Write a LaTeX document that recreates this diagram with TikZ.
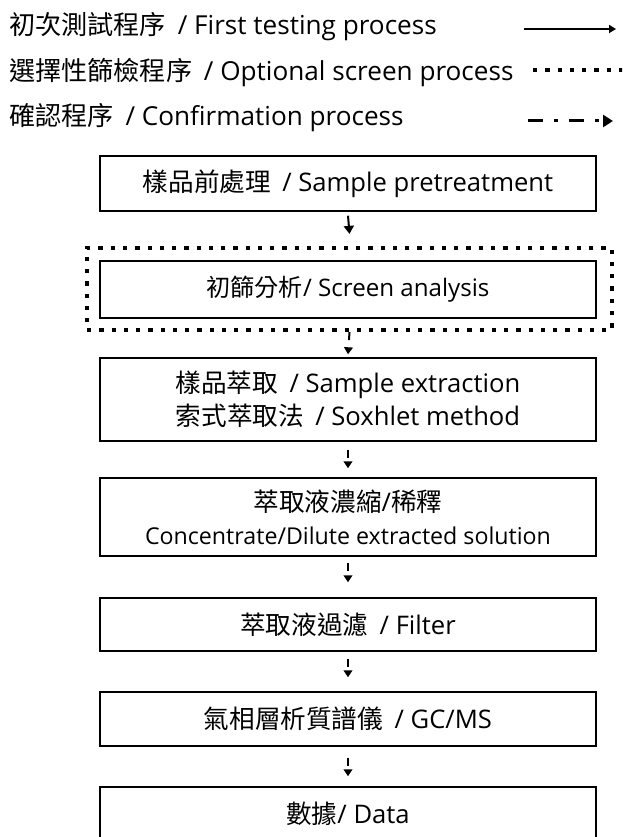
\documentclass[tikz,border=0pt]{standalone}
\usepackage{fontspec}
\setmainfont{Open Sans}
\newfontfamily\cjkfont{Noto Sans CJK TC}
\newcommand\zhtxt[1]{{\cjkfont #1}}
\usetikzlibrary{arrows.meta}
\begin{document}
\begin{tikzpicture}[x=0.75pt,y=-0.75pt,
  box/.style={draw, line width=1.1pt, minimum width=372pt, inner sep=0pt, align=center,
    font=\fontsize{19.2pt}{25pt}\selectfont},
  legendtext/.style={anchor=base west, inner sep=0pt, font=\fontsize{19.6pt}{24pt}\selectfont},
  firstline/.style={line width=1.3pt, -{Triangle[length=5.25pt,width=6pt]}},
  screenline/.style={line width=3.2pt, dash pattern=on 3.2pt off 6pt},
  confline/.style={line width=2.25pt, dash pattern=on 11.25pt off 8.25pt on 3pt off 8.25pt,
    -{Triangle[length=7.5pt,width=9pt]}},
  flowfirst/.style={line width=1.5pt, -{Triangle[length=6pt,width=7.5pt]}},
  flowconf/.style={line width=1.5pt, dash pattern=on 6pt off 30pt,
    -{Triangle[length=5.25pt,width=6.5pt]}},
]
\useasboundingbox (0,0) rectangle (622,837);
\clip (0,0) rectangle (622,837);

% legend
\node[legendtext] (t1) at (9,35) {\zhtxt{初次測試程序}\hspace{0.45em}/ First testing process};
\node[legendtext] (t2) at (9,81) {\zhtxt{選擇性篩檢程序}\hspace{0.45em}/ Optional screen process};
\node[legendtext] (t3) at (9,126) {\zhtxt{確認程序}\hspace{0.45em}/ Confirmation process};
\coordinate (l1a) at (524,29); \coordinate (l1b) at (616,29);
\coordinate (l2a) at (533,70); \coordinate (l2b) at (624,70);
\coordinate (l3a) at (528,121); \coordinate (l3b) at (613,121);
\draw[firstline] (l1a) -- (l1b);
\draw[screenline] (l2a) -- (l2b);
\draw[confline] (l3a) -- (l3b);

% boxes
\node[box, minimum height=41.25pt] (b1) at (348,183.5) {\zhtxt{樣品前處理}\hspace{0.45em}/ Sample pretreatment};
\node[draw, screenline, minimum width=393.75pt, minimum height=61.5pt, inner sep=0pt] (scr) at (349.5,289) {};
\node[box, minimum height=42.75pt, font=\fontsize{18.1pt}{24pt}\selectfont] (b2) at (348,289.5) {\zhtxt{初篩分析}/ Screen analysis};
\node[box, minimum height=62.25pt] (b3) at (348,399.5) {\zhtxt{樣品萃取}\hspace{0.45em}/ Sample extraction\\ \zhtxt{索式萃取法}\hspace{0.45em}/ Soxhlet method};
\node[box, minimum height=58.5pt] (b4) at (348,517) {\zhtxt{萃取液濃縮}/\zhtxt{稀釋}\\ {\fontsize{17.4pt}{24pt}\selectfont Concentrate/Dilute extracted solution}};
\node[box, minimum height=39.75pt] (b5) at (348,624.5) {\zhtxt{萃取液過濾}\hspace{0.45em}/ Filter};
\node[box, minimum height=40.5pt] (b6) at (348,719) {\zhtxt{氣相層析質譜儀}\hspace{0.45em}/ GC/MS};
\node[box, minimum height=52.5pt] (b7) at (348,822) {\raisebox{6.3pt}[\height][\depth]{\zhtxt{數據}/ Data}};

% arrows
\draw[flowfirst] ([yshift=-3pt]b1.south) -- ([yshift=9pt]scr.north);
\draw[flowconf] (scr.south) -- ([yshift=2.25pt]b3.north);
\draw[flowconf] ([yshift=-6pt]b3.south) -- ([yshift=6.75pt]b4.north);
\draw[flowconf] ([yshift=-4.5pt]b4.south) -- ([yshift=11.25pt]b5.north);
\draw[flowconf] ([yshift=-5.25pt]b5.south) -- ([yshift=10.5pt]b6.north);
\draw[flowconf] ([yshift=-8.25pt]b6.south) -- ([yshift=7.5pt]b7.north);
\end{tikzpicture}
\end{document}
